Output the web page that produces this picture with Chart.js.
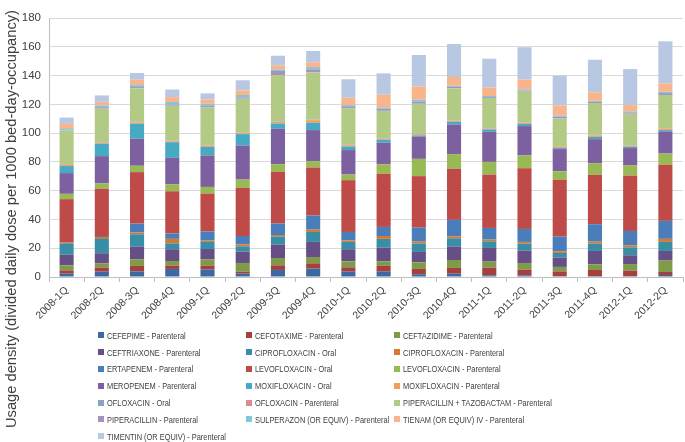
<!DOCTYPE html>
<html>
<head>
<meta charset="utf-8">
<script src="https://cdn.jsdelivr.net/npm/chart.js@4"></script>
<style>
    body { margin: 0; background: #fff; }
    #wrap { position: relative; width: 685px; height: 442px; }
    #ytitle {
        position: absolute; left: 11px; top: 219px; width: 440px;
        transform: translate(-50%, -50%) rotate(-90deg);
        text-align: center; white-space: nowrap;
        font-family: 'Liberation Sans', Arial, sans-serif; font-size: 14.7px; color: #404040;
    }
    #legend {
        position: absolute; left: 98px; top: 327px;
        display: grid; grid-template-columns: 148px 148px 200px; grid-auto-rows: 16.8px;
        font-family: 'Liberation Sans', Arial, sans-serif; font-size: 9.5px; color: #404040;
    }
    #legend div { display: flex; align-items: center; white-space: nowrap; overflow: visible; }
    #legend span.box { display: inline-block; flex: none; width: 6px; height: 6px; margin-right: 3px; }
    #legend span.txt { display: inline-block; transform: scaleX(0.78); transform-origin: left center; }
</style>
</head>
<body>
<div id="wrap">
    <canvas id="chart" width="685" height="442"></canvas>
    <div id="ytitle">Usage density (divided daily dose per 1000 bed-day-occupancy)</div>
    <div id="legend"></div>
</div>
<script>
// 季度
const quarters = ['2008-1Q', '2008-2Q', '2008-3Q', '2008-4Q', '2009-1Q', '2009-2Q', '2009-3Q', '2009-4Q',
    '2010-1Q', '2010-2Q', '2010-3Q', '2010-4Q', '2011-1Q', '2011-2Q', '2011-3Q', '2011-4Q', '2012-1Q', '2012-2Q'];

const yTicks = [0, 20, 40, 60, 80, 100, 120, 140, 160, 180];

// 各药物用量
const cefepime      = [2.3, 3.7, 3.9, 5.6, 5.3, 2.3, 4.9, 5.8, 3.7, 3.7, 1.9, 2.3, 1.2, 1.2, 0.5, 0.7, 0.5, 1.4];
const cefotaxime    = [2.3, 2.8, 3.8, 2.3, 2.6, 1.4, 3.2, 3.7, 3.0, 4.0, 3.7, 4.0, 5.3, 3.9, 3.4, 4.2, 3.9, 2.1];
const ceftazidime   = [3.5, 3.0, 4.6, 3.2, 4.4, 6.0, 5.1, 4.4, 4.2, 3.2, 4.6, 5.5, 4.2, 4.6, 3.1, 3.9, 4.6, 7.9];
const ceftriaxone   = [7.4, 7.0, 8.8, 8.2, 7.2, 7.9, 9.3, 10.5, 8.4, 9.5, 7.2, 9.3, 9.5, 8.6, 6.5, 9.3, 6.1, 6.7];
const ciproOral     = [7.5, 9.9, 8.6, 4.1, 4.9, 3.7, 5.6, 6.9, 5.1, 6.1, 5.8, 5.8, 4.6, 4.9, 3.2, 5.1, 5.5, 6.3];
const ciproPar      = [0.7, 1.4, 1.2, 3.1, 0.9, 1.4, 1.1, 1.6, 1.1, 2.0, 1.4, 1.4, 1.2, 1.2, 1.2, 1.4, 1.4, 2.1];
const ertapenem     = [0.4, 0.7, 6.2, 3.7, 6.3, 5.8, 7.9, 9.8, 5.8, 6.3, 9.7, 11.4, 8.1, 9.0, 10.2, 12.1, 10.0, 12.5];
const levoOral      = [30.0, 32.8, 35.8, 29.4, 26.4, 33.4, 36.0, 33.4, 36.0, 36.9, 35.8, 35.5, 37.1, 42.2, 39.6, 34.3, 38.5, 39.0];
const levoPar       = [3.7, 3.7, 4.4, 4.9, 4.6, 5.8, 5.3, 4.4, 3.9, 6.7, 12.0, 10.2, 8.8, 8.9, 5.8, 8.1, 7.0, 7.8];
const meropenem     = [14.4, 19.0, 18.8, 18.3, 21.9, 23.7, 24.6, 21.6, 17.0, 14.9, 15.3, 20.6, 20.9, 20.4, 15.4, 16.7, 12.1, 15.4];
const moxiOral      = [4.9, 8.6, 10.4, 10.9, 6.0, 7.9, 3.7, 5.1, 2.5, 2.1, 1.0, 1.9, 1.7, 1.6, 0.7, 1.6, 0.9, 0.9];
const moxiPar       = [0.9, 0.7, 0.9, 0.7, 0.9, 0.7, 1.0, 1.8, 0.9, 0.6, 0.9, 0.7, 0.6, 0.7, 0.7, 1.0, 0.7, 0.7];
const oflOral       = [0.3, 0.3, 0.3, 0.2, 0.2, 0.2, 0.2, 0.2, 0.2, 0.2, 0.2, 0.2, 0.2, 0.2, 0.2, 0.2, 0.2, 0.2];
const oflPar        = [0.2, 0.2, 0.2, 0.2, 0.2, 0.2, 0.2, 0.2, 0.2, 0.2, 0.2, 0.2, 0.2, 0.2, 0.2, 0.2, 0.2, 0.2];
const pipTazo       = [23.5, 23.2, 23.2, 24.2, 26.1, 23.5, 32.3, 32.8, 25.2, 19.1, 20.7, 22.1, 20.8, 21.2, 19.7, 22.1, 21.9, 23.3];
const piperacillin  = [0.4, 1.0, 0.9, 0.7, 1.1, 0.9, 2.8, 2.1, 1.4, 1.5, 1.4, 1.2, 0.6, 0.7, 1.0, 0.9, 0.9, 1.3];
const sulperazon    = [1.0, 1.3, 1.4, 1.9, 1.4, 1.7, 1.1, 1.6, 0.9, 0.9, 1.4, 0.7, 0.8, 0.9, 0.9, 0.7, 0.7, 1.0];
const tienam        = [3.0, 2.5, 3.7, 3.4, 3.0, 3.2, 2.8, 3.3, 5.1, 8.8, 9.3, 6.0, 5.8, 6.8, 7.0, 5.8, 4.4, 5.8];
const timentin      = [4.4, 4.4, 4.7, 5.3, 4.2, 7.0, 6.7, 7.9, 12.8, 14.8, 21.8, 22.9, 20.1, 22.5, 20.6, 22.7, 25.0, 29.2];

const seriesNames = [
    'CEFEPIME - Parenteral', 'CEFOTAXIME - Parenteral', 'CEFTAZIDIME - Parenteral',
    'CEFTRIAXONE - Parenteral', 'CIPROFLOXACIN - Oral', 'CIPROFLOXACIN - Parenteral',
    'ERTAPENEM - Parenteral', 'LEVOFLOXACIN - Oral', 'LEVOFLOXACIN - Parenteral',
    'MEROPENEM - Parenteral', 'MOXIFLOXACIN - Oral', 'MOXIFLOXACIN - Parenteral',
    'OFLOXACIN - Oral', 'OFLOXACIN - Parenteral', 'PIPERACILLIN + TAZOBACTAM - Parenteral',
    'PIPERACILLIN - Parenteral', 'SULPERAZON (OR EQUIV) - Parenteral', 'TIENAM (OR EQUIV) IV - Parenteral',
    'TIMENTIN (OR EQUIV) - Parenteral',
];
const seriesData = [cefepime, cefotaxime, ceftazidime, ceftriaxone, ciproOral, ciproPar, ertapenem,
    levoOral, levoPar, meropenem, moxiOral, moxiPar, oflOral, oflPar, pipTazo, piperacillin,
    sulperazon, tienam, timentin];

const COLORS = [
    '#3d69a2', '#a6403d', '#7f9a48', '#664e86', '#378ea6', '#d7782f',
    '#4a7ebb', '#be4b48', '#98b954', '#7d60a0', '#46aac5', '#f59d56',
    '#8aa3c4', '#d98e8c', '#b2ca85', '#a592be', '#84c6d9', '#f9b489',
    '#b8c8e2',
];

const ctx = document.getElementById('chart');
const chart = new Chart(ctx, {
    type: 'bar',
    data: {
        labels: quarters,
        datasets: seriesNames.map((name, i) => ({
            label: name,
            data: seriesData[i],
            backgroundColor: COLORS[i],
            borderWidth: 0,
            barPercentage: 0.4,
            categoryPercentage: 1,
        })),
    },
    options: {
        responsive: false,
        animation: false,
        layout: { padding: { left: 22, right: 2, top: 18, bottom: 0 } },
        plugins: {
            legend: { display: false },
            tooltip: { enabled: false },
        },
        scales: {
            x: {
                stacked: true,
                afterFit: s => { s.height = 165; },
                grid: { offset: true, drawOnChartArea: false, drawTicks: true, tickLength: 5, color: '#bfbfbf' },
                border: { color: '#bfbfbf' },
                ticks: {
                    minRotation: 45, maxRotation: 45, autoSkip: false,
                    color: '#404040', padding: 2,
                    font: { family: "'Liberation Sans', Arial, sans-serif", size: 10.5 },
                },
            },
            y: {
                stacked: true,
                min: 0, max: 180,
                afterFit: s => { s.width = 27; },
                afterBuildTicks: s => { s.ticks = yTicks.map(v => ({ value: v })); },
                grid: { color: '#d9d9d9', drawTicks: false },
                border: { color: '#bfbfbf' },
                ticks: {
                    color: '#404040', padding: 8,
                    font: { family: "'Liberation Sans', Arial, sans-serif", size: 11.5 },
                },
            },
        },
    },
});

// 自定义三列图例
const legendEl = document.getElementById('legend');
seriesNames.forEach((name, i) => {
    const item = document.createElement('div');
    item.innerHTML = '<span class="box" style="background:' + COLORS[i] + '"></span><span class="txt">' + name + '</span>';
    legendEl.appendChild(item);
});
</script>
</body>
</html>
